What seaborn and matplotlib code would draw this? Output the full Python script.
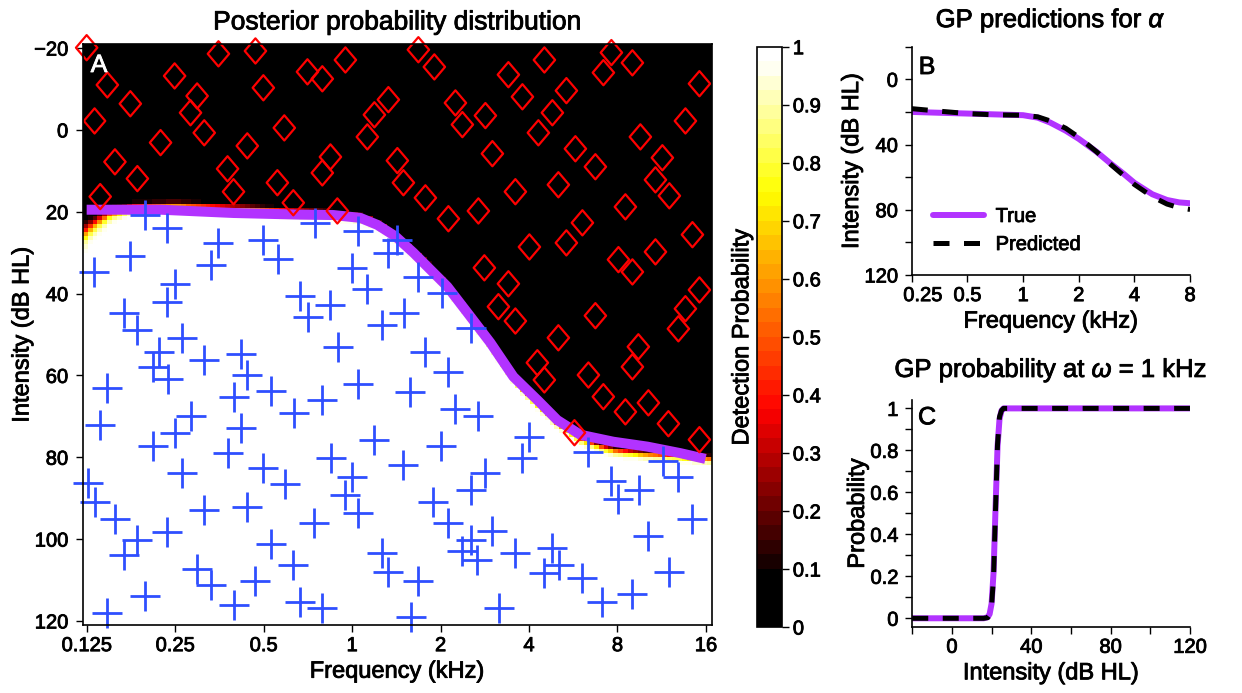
import numpy as np
import matplotlib
matplotlib.use("Agg")
import matplotlib.pyplot as plt
import matplotlib.patheffects as pe
import seaborn as sns
from matplotlib.colors import ListedColormap
from matplotlib.path import Path
from matplotlib.ticker import NullLocator
from matplotlib.transforms import ScaledTranslation

# ---------------- data ----------------
# Red diamonds (no detection): frequency (kHz), intensity (dB HL)
dia_freq = [0.125, 0.147, 0.176, 0.133, 0.249, 0.297, 0.282, 0.314, 0.223, 0.156,
            0.186, 0.139, 0.351, 0.469, 0.499, 0.588, 0.440, 0.377, 0.395, 0.557,
            0.631, 0.705, 0.792, 0.949, 0.844, 0.792, 0.891, 1.329, 1.191, 1.127,
            1.426, 1.495, 1.681, 1.905, 2.247, 2.373, 2.842, 3.403, 3.798, 4.512,
            4.803, 5.361, 4.304, 3.002, 1.776, 2.127, 2.690, 3.594, 5.034, 5.752,
            6.727, 7.626, 7.163, 8.99, 15.20, 13.62, 9.57, 11.37, 10.77, 12.01,
            8.51, 6.077, 14.39, 5.36, 4.012, 2.819, 3.403, 3.147, 3.594, 6.727,
            8.06, 8.99, 10.77, 15.20, 13.62, 12.89, 5.034, 9.42, 8.99, 4.27,
            4.51, 6.37, 7.16, 8.51, 10.19, 11.92, 15.20, 5.71]
dia_int = [-20.1, -11.0, -6.4, -2.2, -13.2, -8.3, -4.2, 0.7, 3.1, 7.8,
           11.9, 16.3, -18.6, -19.3, -10.3, -0.5, 3.9, 9.5, 15.1, 12.9,
           17.8, -14.2, -12.5, -17.1, 6.6, 10.5, 19.8, -7.4, -3.7, 1.7,
           7.5, 12.9, -19.6, -15.4, -6.6, -1.3, -3.5, -13.5, -8.1, -17.1,
           -4.2, -9.6, 0.7, 5.8, 16.6, 21.7, 19.8, 15.1, 13.4, 4.6,
           9.0, -18.9, -14.0, -16.4, -11.3, -2.2, 1.7, 6.8, 12.2, 16.1,
           18.8, 22.7, 25.6, 27.6, 28.6, 33.7, 37.6, 43.2, 46.7, 45.4,
           31.7, 34.7, 29.8, 39.1, 43.7, 48.6, 50.8, 53.0, 57.9, 56.9,
           61.1, 59.9, 65.2, 68.9, 66.7, 71.8, 75.7, 74.0]

# Blue pluses (detection): frequency (kHz), intensity (dB HL)
plus_freq = [0.197, 0.235, 0.132, 0.176, 0.351, 0.332, 0.249, 0.235, 0.167, 0.499,
             0.561, 0.667, 0.710, 0.844, 0.750, 1.05, 1.00, 1.127, 1.426, 1.329,
             1.681, 1.506, 1.268, 0.186, 0.264, 0.221, 0.211, 0.237, 0.314, 0.420,
             0.440, 0.147, 0.139, 0.282, 0.249, 0.211, 0.264, 0.398, 0.420, 0.377,
             0.531, 0.636, 0.792, 0.898, 1.05, 1.579, 1.191, 0.850, 0.499, 0.593,
             1.00, 0.949, 1.05, 0.744, 1.495, 0.126, 0.133, 0.156, 0.186, 0.167,
             0.235, 0.314, 0.440, 0.297, 0.332, 0.469, 0.531, 0.631, 0.197, 0.147,
             0.398, 0.667, 0.792, 1.268, 1.329, 1.591, 1.681, 2.546, 1.776,
             2.127, 2.247, 2.690, 2.013, 4.012, 3.798, 2.842, 2.546, 1.891, 2.127,
             2.546, 3.002, 2.373, 2.669, 3.594, 4.803, 5.074, 4.512, 6.077, 7.107,
             8.99, 3.171, 6.37, 7.626, 8.06, 9.50, 11.46, 12.89, 14.39, 10.19,
             12.01, 2.029]
plus_int = [20.7, 23.9, 34.7, 30.8, 27.6, 33.0, 37.6, 42.0, 44.7, 26.9,
            31.5, 40.5, 45.7, 42.8, 22.7, 24.7, 33.7, 38.8, 26.9, 30.0,
            35.9, 44.7, 47.6, 48.9, 50.8, 54.2, 57.9, 60.8, 56.2, 54.7,
            59.9, 63.0, 72.1, 69.9, 74.0, 77.2, 83.8, 65.2, 72.8, 78.9,
            63.8, 69.1, 66.0, 53.0, 62.1, 64.0, 75.7, 80.1, 82.7, 86.5,
            84.8, 89.2, 93.6, 96.0, 81.9, 86.3, 90.9, 95.1, 100.2, 103.9,
            98.2, 92.9, 92.2, 107.2, 111.1, 110.2, 101.1, 106.3, 113.9, 118.0,
            116.1, 115.3, 116.8, 103.4, 108.0, 119.0, 110.2, 48.3, 54.2,
            59.1, 68.2, 69.9, 77.2, 75.0, 80.1, 83.8, 88.1, 90.9, 96.0,
            100.2, 98.0, 103.0, 105.2, 103.4, 102.1, 106.3, 108.4, 109.4, 115.3,
            113.3, 116.8, 78.7, 85.9, 90.3, 88.1, 80.9, 84.8, 95.1, 99.2,
            108.0, 39.8]

# True threshold drawn in panel A
a_true_freq = [0.125, 0.223, 0.395, 0.667, 0.864, 1.067, 1.219, 1.404, 1.617, 2.110,
               2.526, 2.955, 3.538, 4.27, 4.99, 5.98, 7.74, 10.11, 13.1, 15.93]
a_true_thr = [19.5, 19.5, 20.3, 20.7, 20.8, 21.5, 23.2, 26.0, 30.0, 38.3,
              45.6, 52.0, 60.3, 66.0, 70.9, 74.5, 76.2, 77.4, 79.0, 80.4]

# Posterior 50% threshold and transition width
post_freq = [0.121, 0.13, 0.15, 0.18, 0.25, 0.4, 0.6, 0.85, 1.0, 1.15, 1.3, 1.5,
             1.75, 2.1, 2.5, 3.0, 3.5, 4.0, 4.5, 5.0, 6.0, 7.0, 8.0, 10.0, 13.0, 16.8]
post_thr = [25.5, 23.5, 20.5, 18.8, 18.3, 19.0, 19.8, 20.5, 21.0, 22.0, 24.0, 27.5,
            32.0, 38.0, 45.0, 53.0, 60.0, 65.0, 68.5, 71.5, 75.5, 77.5, 78.5, 79.3, 79.8, 80.5]
post_width = [1.4, 1.1, 0.8, 0.6, 0.5, 0.5, 0.5, 0.5, 0.5, 0.5, 0.5, 0.5,
              0.5, 0.5, 0.5, 0.5, 0.5, 0.5, 0.5, 0.5, 0.5, 0.5, 0.5, 0.5, 0.5, 0.5]

# Panel B: GP predictions for alpha
b_freq = [0.25, 0.35, 0.5, 0.7, 1.0, 1.2, 1.4, 1.7, 2.0, 2.5, 3.0, 3.5, 4.0, 5.0, 6.0, 7.0, 8.0]
b_true = [20.0, 20.5, 21.0, 21.5, 22.0, 23.5, 26.5, 31.5, 36.5, 44.5, 52.0, 58.0, 63.5, 70.5, 74.0, 75.5, 76.0]
b_pred = [18.0, 19.5, 21.0, 21.8, 22.0, 23.0, 25.5, 30.0, 35.5, 44.5, 52.5, 59.0, 64.5, 72.0, 76.5, 78.8, 79.8]

# Panel C: GP probability at 1 kHz
c_int = [-20, 16, 18, 19, 20, 21, 22, 23, 24, 25, 26, 30, 120]
c_true = [0, 0, 0.005, 0.02, 0.07, 0.22, 0.53, 0.82, 0.95, 0.99, 1.0, 1.0, 1.0]
c_pred = [0, 0, 0.003, 0.015, 0.06, 0.20, 0.52, 0.83, 0.96, 0.99, 1.0, 1.0, 1.0]

freq_ticks = [0.125, 0.25, 0.5, 1, 2, 4, 8, 16]
freq_labels = ["0.125", "0.25", "0.5", "1", "2", "4", "8", "16"]

# ---------------- style ----------------
sns.set_style("ticks")
plt.rcParams["font.family"] = ["Liberation Sans", "DejaVu Sans"]
plt.rcParams["mathtext.fontset"] = "custom"
plt.rcParams["mathtext.rm"] = "Liberation Sans"
plt.rcParams["mathtext.it"] = "Liberation Sans:italic"
for k in ["text.color", "axes.labelcolor", "xtick.color", "ytick.color", "axes.edgecolor"]:
    plt.rcParams[k] = "black"
plt.rcParams["axes.linewidth"] = 1.2
plt.rcParams["xtick.major.width"] = 1.0
plt.rcParams["ytick.major.width"] = 1.0
plt.rcParams["xtick.major.size"] = 5
plt.rcParams["ytick.major.size"] = 5
plt.rcParams["xtick.direction"] = "out"
plt.rcParams["ytick.direction"] = "out"

TICK = 14.5
LAB = 17
TIT = 18.5
PURPLE = "#b233ff"
BLUE = "#2f4fff"

fig = plt.figure(figsize=(12.42, 6.93), dpi=100)

# ---------------- panel A ----------------
ax = fig.add_axes([0.0666, 0.0981, 0.5064, 0.8384])
ax.set_xscale("log", base=2)

cols = []
for i in range(40):
    v = (i + 0.5) / 40
    if v < 0.1:
        cols.append((0, 0, 0, 1))
    else:
        r = min(1, max(0, (v - 0.085) / 0.29))
        g = min(1, max(0, (v - 0.375) / 0.375))
        b = min(1, max(0, (v - 0.75) / 0.225))
        cols.append((r, g, b, 1))
cmap = ListedColormap(cols)

xl = np.linspace(np.log2(0.1212), np.log2(16.73), 129)
x_edges = 2 ** xl
xc = (xl[:-1] + xl[1:]) / 2
y_edges = np.arange(-21, 121.01, 1.0)
yc = (y_edges[:-1] + y_edges[1:]) / 2
T = np.interp(xc, np.log2(post_freq), post_thr)
S = np.interp(xc, np.log2(post_freq), post_width)
P = 1 / (1 + np.exp(-(yc[:, None] - T[None, :]) / S[None, :]))
mesh = ax.pcolormesh(x_edges, y_edges, P, cmap=cmap, vmin=0, vmax=1, shading="flat", zorder=1)

sns.lineplot(x=a_true_freq, y=a_true_thr, ax=ax, color=PURPLE, linewidth=7.2,
             errorbar=None, solid_capstyle="butt", zorder=3, legend=False)
sns.scatterplot(x=plus_freq, y=plus_int, ax=ax, marker="+", s=440, color=BLUE,
                linewidth=2.0, clip_on=False, zorder=4, legend=False)
diamond = Path([(0, 1), (0.85, 0), (0, -1), (-0.85, 0), (0, 1)],
               [Path.MOVETO, Path.LINETO, Path.LINETO, Path.LINETO, Path.CLOSEPOLY])
sns.scatterplot(x=dia_freq, y=dia_int, ax=ax, marker=diamond, s=330, color="red",
                facecolors="none", edgecolor="red", linewidth=1.6, clip_on=False,
                zorder=5, legend=False)

ax.set_xlim(0.1212, 16.73)
ax.set_ylim(121, -21)
ax.set_xticks(freq_ticks)
ax.set_xticklabels(freq_labels)
ax.xaxis.set_minor_locator(NullLocator())
ax.set_yticks(list(range(-20, 121, 20)))
ax.tick_params(axis="both", labelsize=TICK)
ax.tick_params(axis="x", pad=3)
ax.tick_params(axis="y", pad=5.5)
ax.set_xlabel("Frequency (kHz)", fontsize=LAB, labelpad=4)
ax.set_ylabel("Intensity (dB HL)", fontsize=LAB, labelpad=0.5)
ax.set_title("Posterior probability distribution", fontsize=19, pad=10.5)
for sp in ax.spines.values():
    sp.set_zorder(6)

# colorbar
cax = fig.add_axes([0.6093, 0.0952, 0.0201, 0.8374])
cb = fig.colorbar(mesh, cax=cax, ticks=[i / 10 for i in range(11)])
cb.ax.set_yticklabels(["0", "0.1", "0.2", "0.3", "0.4", "0.5", "0.6", "0.7", "0.8", "0.9", "1"])
cb.ax.tick_params(labelsize=TICK, direction="out", length=5, pad=3)
cb.outline.set_linewidth(1.2)
cb.outline.set_edgecolor("black")
cb.ax.yaxis.set_label_position("left")
cb.set_label("Detection Probability", fontsize=LAB, labelpad=2.5)

# ---------------- panel B ----------------
axB = fig.add_axes([0.7341, 0.6032, 0.2241, 0.3294])
axB.set_xscale("log", base=2)
sns.lineplot(x=b_freq, y=b_true, ax=axB, color=PURPLE, linewidth=4.3, errorbar=None,
             label="True", zorder=2)
sns.lineplot(x=b_freq, y=b_pred, ax=axB, color="black", linewidth=3.6, errorbar=None,
             linestyle=(0, (3.2, 2.9)), label="Predicted", zorder=3)
axB.set_xlim(0.25, 8)
axB.set_ylim(120, -20)
axB.set_xticks([0.25, 0.5, 1, 2, 4, 8])
axB.set_xticklabels(["0.25", "0.5", "1", "2", "4", "8"])
axB.xaxis.set_minor_locator(NullLocator())
axB.set_yticks(list(range(-20, 121, 20)))
axB.set_yticklabels(["", "0", "", "40", "", "80", "", "120"])
axB.tick_params(axis="both", labelsize=TICK)
axB.tick_params(axis="x", pad=3)
axB.tick_params(axis="y", pad=5)
axB.set_xlabel("Frequency (kHz)", fontsize=LAB, labelpad=4)
axB.set_ylabel("Intensity (dB HL)", fontsize=LAB, labelpad=1)
axB.set_title(r"GP predictions for $\alpha$", fontsize=TIT, pad=14)
sns.despine(ax=axB)
axB.legend(frameon=False, fontsize=TICK, handlelength=2.5, loc="center left",
           bbox_to_anchor=(0.048, 0.195), borderaxespad=0, borderpad=0.4,
           handletextpad=0.6, labelspacing=0.45)
first = axB.get_xticklabels()[0]
first.set_transform(first.get_transform() + ScaledTranslation(0.11, 0, fig.dpi_scale_trans))

# ---------------- panel C ----------------
axC = fig.add_axes([0.7345, 0.0957, 0.2236, 0.3271])
sns.lineplot(x=c_int, y=c_true, ax=axC, color=PURPLE, linewidth=4.3, errorbar=None,
             zorder=2, legend=False)
sns.lineplot(x=c_int, y=c_pred, ax=axC, color="black", linewidth=3.6, errorbar=None,
             linestyle=(0, (3.2, 2.9)), zorder=3, legend=False)
axC.set_xlim(-20, 120)
axC.set_ylim(-0.04, 1.04)
axC.set_xticks(list(range(-20, 121, 20)))
axC.set_xticklabels(["", "0", "", "40", "", "80", "", "120"])
axC.set_yticks([i / 10 for i in range(11)])
axC.set_yticklabels(["0", "", "0.2", "", "0.4", "", "0.6", "", "0.8", "", "1"])
axC.tick_params(axis="both", labelsize=TICK)
axC.tick_params(axis="x", pad=3)
axC.tick_params(axis="y", pad=5)
axC.set_xlabel("Intensity (dB HL)", fontsize=LAB, labelpad=4)
axC.set_ylabel("Probability", fontsize=LAB, labelpad=1)
axC.set_title(r"GP probability at $\omega$ = 1 kHz", fontsize=TIT, pad=16.5)
sns.despine(ax=axC)

# panel letters
fig.text(0.0797, 0.9062, "A", color="white", fontsize=18, ha="center", va="center", zorder=10)
fig.text(0.7464, 0.9033, "B", color="black", fontsize=18, ha="center", va="center")
fig.text(0.7464, 0.3978, "C", color="black", fontsize=18, ha="center", va="center")

# slightly heavier text rendering, as in the reference
for t in fig.findobj(matplotlib.text.Text):
    if t.get_text():
        t.set_path_effects([pe.withStroke(linewidth=0.6, foreground=t.get_color())])

fig.savefig("out.png", dpi=100)
